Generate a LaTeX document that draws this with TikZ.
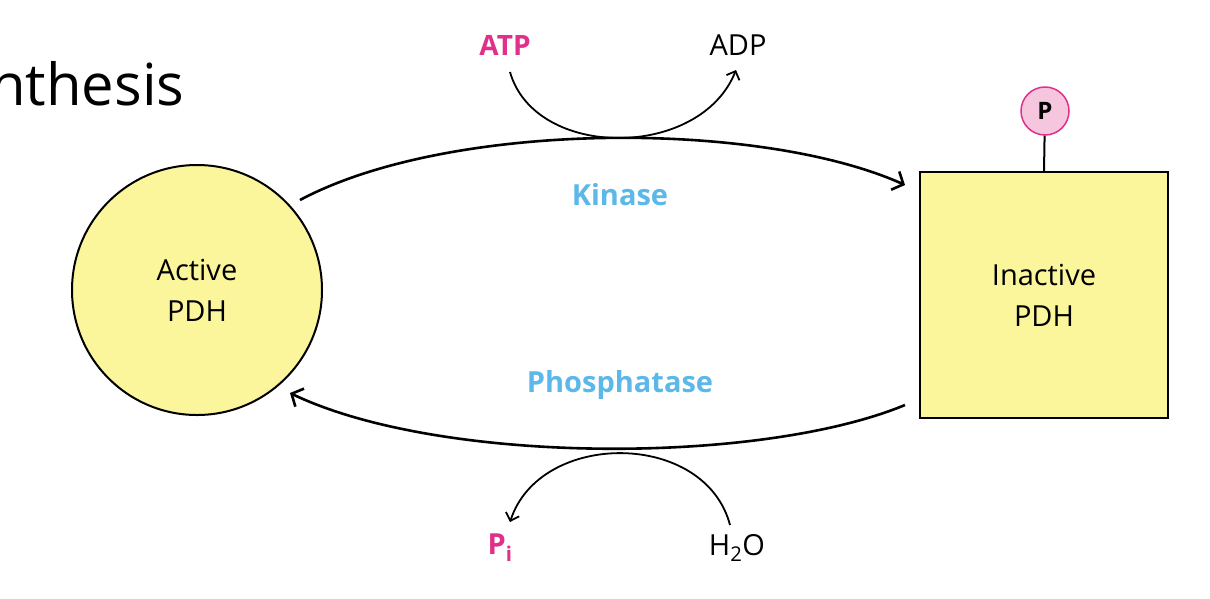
\documentclass[tikz,border=0pt]{standalone}
\usepackage{fontspec}
\setmainfont{Open Sans}
\usetikzlibrary{arrows.meta}
\definecolor{fillY}{HTML}{FBF59B}
\definecolor{mag}{HTML}{E0308A}
\definecolor{kblue}{HTML}{5BB8E8}
\definecolor{pinkP}{HTML}{F5C6DE}
\begin{document}
\begin{tikzpicture}[x=1pt,y=-1pt,
  lbl/.style={font=\fontsize{29}{41}\selectfont},
  enz/.style={font=\fontsize{29}{32}\selectfont\bfseries, text=kblue},
  arr/.style={line width=2.6pt, -{Straight Barb[length=9pt,width=20pt]}},
  sarr/.style={line width=1.8pt, -{Straight Barb[length=7pt,width=14pt]}}]
\useasboundingbox (0,0) rectangle (1210,598);
\fill[white] (0,0) rectangle (1210,598);
\node[anchor=west, font=\fontsize{58}{64}\selectfont, inner sep=0] (title) at (-10,84) {nthesis};
\node[circle, draw, line width=2pt, fill=fillY, minimum size=250pt, align=center, lbl] (act) at (197,290) {Active\\PDH};
\node[draw, line width=2pt, fill=fillY, minimum width=248pt, minimum height=246pt, align=center, lbl] (inact) at (1044,295) {Inactive\\PDH};
\node[circle, draw=mag, line width=1.5pt, fill=pinkP, minimum size=48pt, inner sep=0, font=\fontsize{24}{26}\selectfont\bfseries] (p) at (1045,111) {P};
\draw[line width=2pt] (p) -- (inact.north);
\coordinate (t1) at (300,200); \coordinate (t2) at (905,185);
\draw[arr] (t1) .. controls (450,120) and (760,120) .. (t2);
\coordinate (b1) at (905,405); \coordinate (b2) at (290,393);
\draw[arr] (b1) .. controls (760,465) and (440,465) .. (b2);
\node[enz] (kin) at (620,195) {Kinase};
\node[enz] (pho) at (620,385) {Phosphatase};
\node[text=mag, font=\fontsize{28}{30}\selectfont\bfseries] (atp) at (505,45) {ATP};
\node[lbl] (adp) at (738,45) {ADP};
\node[lbl, text=mag, font=\fontsize{29}{32}\selectfont\bfseries] (pi) at (500,548) {P\textsubscript{i}};
\node[lbl] (h2o) at (737,548) {H\textsubscript{2}O};
\coordinate (sa) at (510,72); \coordinate (se) at (736,70);
\draw[sarr] (sa) .. controls (535,160) and (700,160) .. (se);
\coordinate (sb) at (730,525); \coordinate (sc) at (510,522);
\draw[sarr] (sb) .. controls (705,430) and (540,430) .. (sc);
\end{tikzpicture}
\end{document}
